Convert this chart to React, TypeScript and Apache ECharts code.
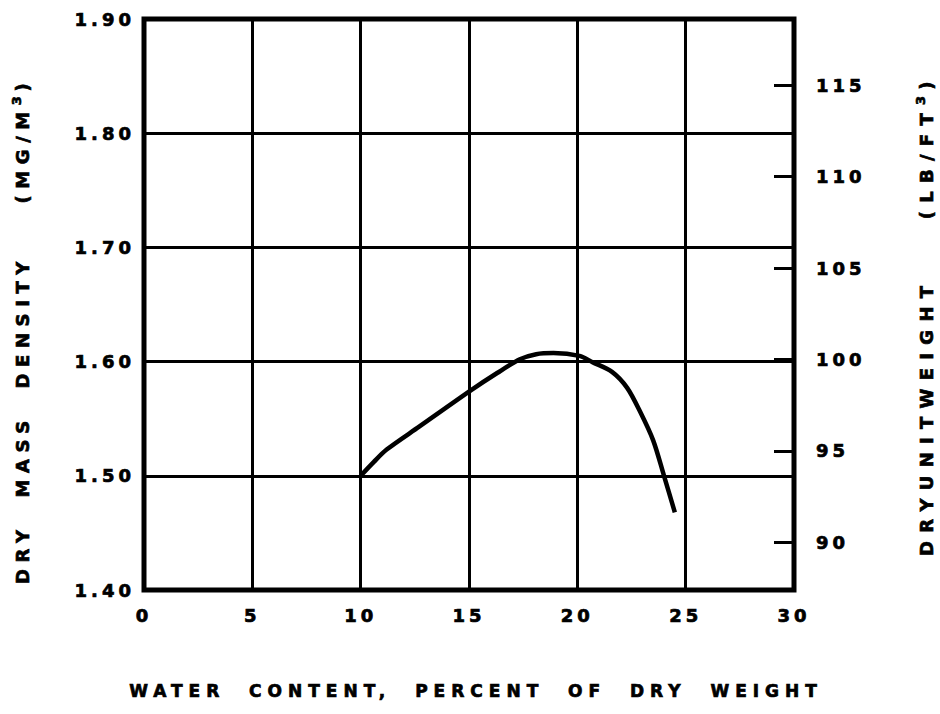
import React, { useEffect, useRef } from "react";
import * as echarts from "echarts";

const waterContent = [10, 10.6, 11.2, 12.7, 15.1, 16.3, 17.35, 18.1, 18.9, 20.1, 20.7, 21.6, 22.3, 22.9, 23.5, 24.0, 24.5];
const dryDensity = [1.5, 1.512, 1.523, 1.543, 1.575, 1.59, 1.602, 1.6065, 1.6075, 1.605, 1.5995, 1.591, 1.577, 1.556, 1.531, 1.5, 1.468];
const unitWeightTicks = [90, 95, 100, 105, 110, 115];
const MG_PER_LB = 0.0160185;
const densityMin = 1.4;
const densityMax = 1.9;

const xTitle = "WATER  CONTENT,  PERCENT  OF  DRY  WEIGHT";
const leftTitleMain = "DRY  MASS  DENSITY    (MG/M";
const rightTitleMain = "DRYUNITWEIGHT    (LB/FT";
const supText = "3";
const closeText = ")";

const TICK_FONT = "DejaVu Sans";
const X_TITLE_FONT = "DejaVu Sans, Verdana";
const LEFT_TITLE_FONT = "DejaVu Sans, Tahoma";
const RIGHT_TITLE_FONT = "DejaVu Sans, Geneva";
const LEFT_SPACING = 6.6;
const RIGHT_SPACING = 8.3;
const Y_TITLE_SIZE = 18;
const SUP_SIZE = 13;

function measure(text: string, font: string, spacing: number): number {
  const ctx = document.createElement("canvas").getContext("2d") as any;
  ctx.font = font;
  try {
    ctx.letterSpacing = spacing + "px";
  } catch (e) {}
  let w = ctx.measureText(text).width;
  if (!ctx.letterSpacing || ctx.letterSpacing === "0px") w += spacing * text.length;
  return w;
}

function verticalTitle(main: string, family: string, spacing: number, x: number, bottomY: number) {
  const mainFont = `bold ${Y_TITLE_SIZE}px ${family}`;
  const supFont = `bold ${SUP_SIZE}px ${family}`;
  const w1 = measure(main, mainFont, spacing);
  const w2 = measure(supText, supFont, spacing);
  const base = { type: "text", rotation: Math.PI / 2 };
  return [
    {
      ...base,
      x,
      y: bottomY,
      style: { text: main, fill: "#000", font: mainFont, textAlign: "left", textVerticalAlign: "middle" },
    },
    {
      ...base,
      x: x - 6,
      y: bottomY - w1,
      style: { text: supText, fill: "#000", font: supFont, textAlign: "left", textVerticalAlign: "middle" },
    },
    {
      ...base,
      x,
      y: bottomY - w1 - w2 + 2,
      style: { text: closeText, fill: "#000", font: mainFont, textAlign: "left", textVerticalAlign: "middle" },
    },
  ];
}

export default function App() {
  const ref = useRef<HTMLDivElement>(null);
  useEffect(() => {
    if (!ref.current) return;
    const chart = echarts.init(ref.current, undefined, { renderer: "svg" });
    const labelStyle = {
      color: "#000",
      fontFamily: TICK_FONT,
      fontWeight: "bold" as const,
      fontSize: 18,
    };
    chart.setOption({
      animation: false,
      backgroundColor: "#fff",
      grid: {
        left: 144,
        right: 146,
        top: 19,
        bottom: 124,
        show: true,
        borderColor: "#000",
        borderWidth: 5,
      },
      xAxis: {
        type: "value",
        min: 0,
        max: 30,
        interval: 5,
        axisLine: { show: false },
        axisTick: { show: false },
        axisLabel: { ...labelStyle, margin: 16 },
        splitLine: { show: true, lineStyle: { color: "#000", width: 3 } },
      },
      yAxis: [
        {
          type: "value",
          min: densityMin,
          max: densityMax,
          interval: 0.1,
          axisLine: { show: false },
          axisTick: { show: false },
          axisLabel: {
            ...labelStyle,
            margin: 9,
            formatter: (v: number) => v.toFixed(2),
          },
          splitLine: { show: true, lineStyle: { color: "#000", width: 3 } },
        },
        {
          type: "value",
          position: "right",
          min: densityMin / MG_PER_LB,
          max: densityMax / MG_PER_LB,
          axisLine: { show: false },
          axisTick: {
            show: true,
            inside: true,
            length: 20,
            lineStyle: { color: "#000", width: 3 },
            customValues: unitWeightTicks,
          },
          axisLabel: {
            ...labelStyle,
            margin: 22,
            customValues: unitWeightTicks,
          },
          splitLine: { show: false },
        },
      ],
      graphic: [
        {
          type: "text",
          x: 476,
          y: 691,
          style: {
            text: xTitle,
            fill: "#000",
            font: `bold 17px ${X_TITLE_FONT}`,
            textAlign: "center",
            textVerticalAlign: "middle",
          },
        },
        ...verticalTitle(leftTitleMain, LEFT_TITLE_FONT, LEFT_SPACING, 22, 584),
        ...verticalTitle(rightTitleMain, RIGHT_TITLE_FONT, RIGHT_SPACING, 926, 556),
      ],
      series: [
        {
          type: "line",
          yAxisIndex: 0,
          smooth: 0.3,
          symbol: "none",
          lineStyle: { color: "#000", width: 4.5 },
          data: waterContent.map((x, i) => [x, dryDensity[i]]),
        },
      ],
    });
    return () => chart.dispose();
  }, []);
  return (
    <>
      <style>{`
        #chartbox text { letter-spacing: 4px; paint-order: stroke; stroke: #000; stroke-width: 0.7px; }
        #chartbox text[style*="Verdana"] { letter-spacing: 6px; }
        #chartbox text[style*="Tahoma"] { letter-spacing: ${LEFT_SPACING}px; }
        #chartbox text[style*="Geneva"] { letter-spacing: ${RIGHT_SPACING}px; }
      `}</style>
      <div
        id="chartbox"
        ref={ref}
        style={{ position: "fixed", left: 0, top: 0, width: 940, height: 714, background: "#fff" }}
      />
    </>
  );
}
